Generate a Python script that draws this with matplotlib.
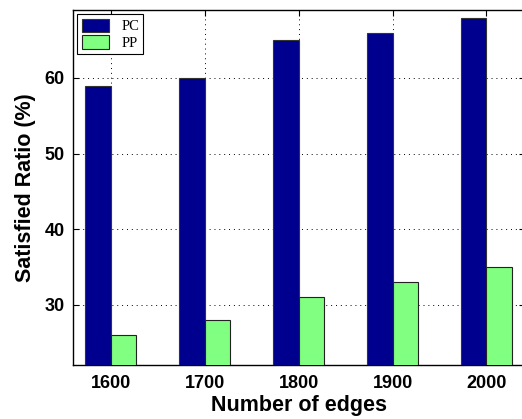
import numpy as np
import matplotlib
matplotlib.use("Agg")
import matplotlib.pyplot as plt

# ── Data ──────────────────────────────────────────────────────────────────────
edges   = ["1600", "1700", "1800", "1900", "2000"]
pc_vals = [59, 60, 65, 66, 68]
pp_vals = [26, 28, 31, 33, 35]
y_ticks = [30, 40, 50, 60]

PC_COLOR = "#00008f"
PP_COLOR = "#80ff80"
BAR_W    = 0.27


def main():
    fig = plt.figure(figsize=(5.22, 4.19), dpi=100)
    # right spine sits just past the figure edge, as in the reference
    ax = fig.add_axes([73 / 522, 1 - 365 / 419, 452 / 522, 355 / 419])

    x = np.arange(1, len(edges) + 1)
    ax.bar(x - BAR_W, pc_vals, BAR_W, align="edge", color=PC_COLOR,
           edgecolor="#333333", linewidth=0.8, label="PC", zorder=3)
    ax.bar(x, pp_vals, BAR_W, align="edge", color=PP_COLOR,
           edgecolor="#222222", linewidth=0.8, label="PP", zorder=3)

    ax.set_xlim(0.6, 5.41)
    ax.set_ylim(22, 69)
    ax.set_xticks(x)
    ax.set_xticklabels(edges)
    ax.set_yticks(y_ticks)

    for lab in ax.get_xticklabels() + ax.get_yticklabels():
        lab.set_fontfamily("Liberation Sans")
        lab.set_fontweight("bold")
        lab.set_fontsize(13)

    ax.tick_params(axis="y", direction="in", length=4, right=True, pad=6)
    ax.tick_params(axis="x", direction="in", length=4, top=True, pad=7)
    ax.grid(True, linestyle=(0, (1, 4)), color="black", linewidth=0.7, zorder=0)
    ax.set_axisbelow(True)
    for sp in ax.spines.values():
        sp.set_linewidth(1.0)

    ax.set_xlabel("Number of edges", fontfamily="Liberation Sans",
                  fontweight="bold", fontsize=15.5, labelpad=2)
    ax.set_ylabel("Satisfied Ratio (%)", fontfamily="Liberation Sans",
                  fontweight="bold", fontsize=15.5, labelpad=6)

    leg = ax.legend(loc="upper left", prop={"family": "Liberation Serif", "size": 10.5},
                    fancybox=False, edgecolor="black", framealpha=1,
                    borderaxespad=0.3, handlelength=1.9, handleheight=1.0,
                    borderpad=0.3, labelspacing=0.15, handletextpad=0.8)
    leg.get_frame().set_linewidth(0.8)

    fig.savefig("out.png", dpi=100)
    plt.close(fig)


if __name__ == "__main__":
    main()
